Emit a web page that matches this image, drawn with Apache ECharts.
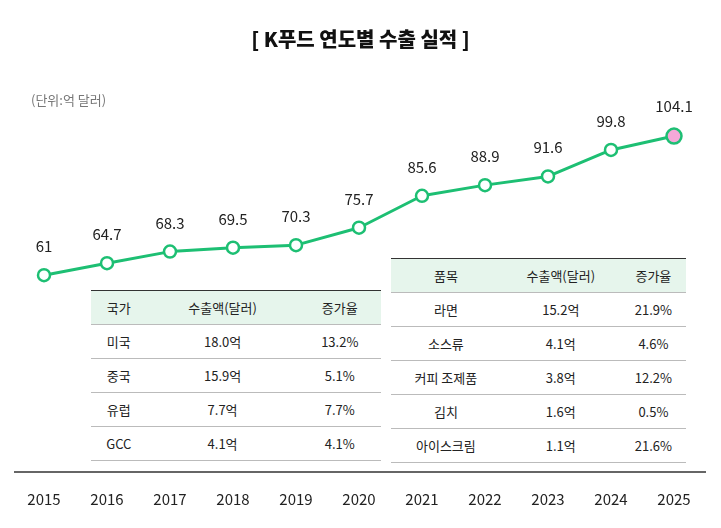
<!DOCTYPE html>
<html><head><meta charset="utf-8">
<script src="https://cdn.jsdelivr.net/npm/echarts@6/dist/echarts.min.js"></script>
<style>
body{margin:0;background:#fff;font-family:"Noto Sans CJK KR","Noto Sans",sans-serif;}
#c{width:721px;height:528px;position:absolute;left:0;top:0;}
table{position:absolute;border-collapse:collapse;font-size:13px;color:#222;background:#fff;border-top:1.5px solid #333;}
td,th{height:33px;text-align:center;border-bottom:1px solid #bbb;font-weight:normal;padding:0;}
th{background:#e6f5ec;}
</style></head><body>
<div id="c"></div>
<table id="t1" style="left:91px;top:290px;width:290px;"></table>
<table id="t2" style="left:391px;top:258px;width:295px;"></table>
<script>
const years=['2015','2016','2017','2018','2019','2020','2021','2022','2023','2024','2025'];
const values=[61,64.7,68.3,69.5,70.3,75.7,85.6,88.9,91.6,99.8,104.1];
const t1Head=['국가','수출액(달러)','증가율'];
const t1Rows=[['미국','18.0억','13.2%'],['중국','15.9억','5.1%'],['유럽','7.7억','7.7%'],['GCC','4.1억','4.1%']];
const t2Head=['품목','수출액(달러)','증가율'];
const t2Rows=[['라면','15.2억','21.9%'],['소스류','4.1억','4.6%'],['커피 조제품','3.8억','12.2%'],['김치','1.6억','0.5%'],['아이스크림','1.1억','21.6%']];
function fill(id,h,rows){let s='<tr>'+h.map(x=>'<th>'+x+'</th>').join('')+'</tr>';rows.forEach(r=>s+='<tr>'+r.map(x=>'<td>'+x+'</td>').join('')+'</tr>');document.getElementById(id).innerHTML=s;}
fill('t1',t1Head,t1Rows);fill('t2',t2Head,t2Rows);
const ch=echarts.init(document.getElementById('c'));
const green='#1dbf73';
ch.setOption({
 animation:false,
 title:[{text:'[ K푸드 연도별 수출 실적 ]',left:'center',top:24,textStyle:{fontSize:20,fontWeight:900,color:'#111',fontFamily:'Noto Sans CJK KR'}},
  {text:'(단위:억 달러)',left:26,top:89,textStyle:{fontSize:13,fontWeight:'normal',color:'#777',fontFamily:'Noto Sans CJK KR'}}],
 grid:{left:44,right:47,top:88,bottom:56},
 graphic:[{type:'line',shape:{x1:14,y1:472,x2:706,y2:472},style:{stroke:'#333',lineWidth:1.5}}],
 xAxis:{type:'category',data:years,boundaryGap:false,axisLine:{show:false},axisTick:{show:false},
  axisLabel:{margin:20,fontSize:15,color:'#222',fontFamily:'Noto Sans CJK KR'}},
 yAxis:{type:'value',min:0,max:119,show:false,splitLine:{show:false}},
 series:[{type:'line',data:values.map((v,i)=>i===values.length-1?{value:v,symbolSize:15,itemStyle:{color:'#f5a8d8'}}:v),
  symbol:'circle',symbolSize:12,lineStyle:{color:green,width:3},itemStyle:{color:'#fff',borderColor:green,borderWidth:2.5},
  label:{show:true,position:'top',distance:14,fontSize:15,color:'#222',fontFamily:'Noto Sans CJK KR'}}]
});
</script></body></html>
